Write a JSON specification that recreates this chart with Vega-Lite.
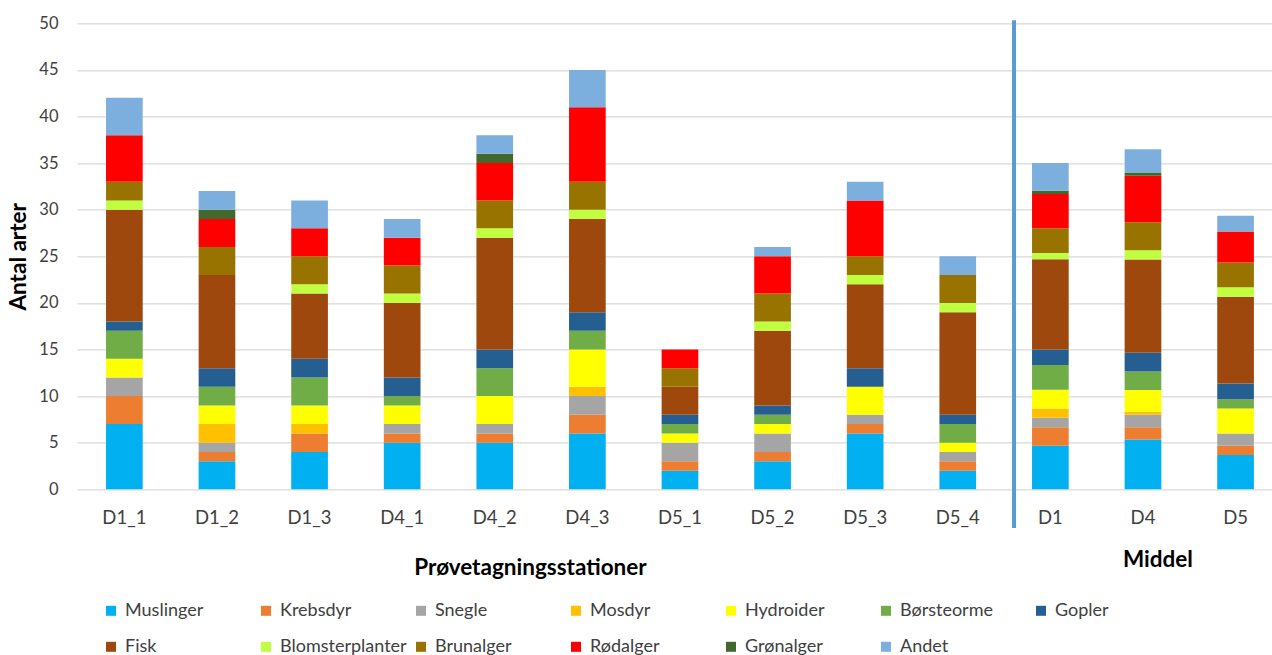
{
  "$schema": "https://vega.github.io/schema/vega-lite/v6.json",
  "width": 1195,
  "height": 466,
  "autosize": {"type": "none"},
  "padding": {"left": 77, "top": 23.3, "right": 0, "bottom": 165.7},
  "background": "white",
  "config": {
    "font": "Lato",
    "view": {"stroke": null},
    "axis": {
      "labelFont": "Lato",
      "labelColor": "#404040",
      "titleFont": "Lato",
      "titleFontSize": 22.5,
      "titleFontWeight": "bold",
      "titleColor": "#000000",
      "domain": false,
      "ticks": false
    },
    "legend": {
      "labelFont": "Lato",
      "labelFontSize": 18,
      "labelColor": "#404040"
    }
  },
  "datasets": {
    "arter": [
      {"station": "D1_1", "gruppe": "Muslinger", "antal": 7},
      {"station": "D1_1", "gruppe": "Krebsdyr", "antal": 3},
      {"station": "D1_1", "gruppe": "Snegle", "antal": 2},
      {"station": "D1_1", "gruppe": "Hydroider", "antal": 2},
      {"station": "D1_1", "gruppe": "Børsteorme", "antal": 3},
      {"station": "D1_1", "gruppe": "Gopler", "antal": 1},
      {"station": "D1_1", "gruppe": "Fisk", "antal": 12},
      {"station": "D1_1", "gruppe": "Blomsterplanter", "antal": 1},
      {"station": "D1_1", "gruppe": "Brunalger", "antal": 2},
      {"station": "D1_1", "gruppe": "Rødalger", "antal": 5},
      {"station": "D1_1", "gruppe": "Andet", "antal": 4},

      {"station": "D1_2", "gruppe": "Muslinger", "antal": 3},
      {"station": "D1_2", "gruppe": "Krebsdyr", "antal": 1},
      {"station": "D1_2", "gruppe": "Snegle", "antal": 1},
      {"station": "D1_2", "gruppe": "Mosdyr", "antal": 2},
      {"station": "D1_2", "gruppe": "Hydroider", "antal": 2},
      {"station": "D1_2", "gruppe": "Børsteorme", "antal": 2},
      {"station": "D1_2", "gruppe": "Gopler", "antal": 2},
      {"station": "D1_2", "gruppe": "Fisk", "antal": 10},
      {"station": "D1_2", "gruppe": "Brunalger", "antal": 3},
      {"station": "D1_2", "gruppe": "Rødalger", "antal": 3},
      {"station": "D1_2", "gruppe": "Grønalger", "antal": 1},
      {"station": "D1_2", "gruppe": "Andet", "antal": 2},

      {"station": "D1_3", "gruppe": "Muslinger", "antal": 4},
      {"station": "D1_3", "gruppe": "Krebsdyr", "antal": 2},
      {"station": "D1_3", "gruppe": "Mosdyr", "antal": 1},
      {"station": "D1_3", "gruppe": "Hydroider", "antal": 2},
      {"station": "D1_3", "gruppe": "Børsteorme", "antal": 3},
      {"station": "D1_3", "gruppe": "Gopler", "antal": 2},
      {"station": "D1_3", "gruppe": "Fisk", "antal": 7},
      {"station": "D1_3", "gruppe": "Blomsterplanter", "antal": 1},
      {"station": "D1_3", "gruppe": "Brunalger", "antal": 3},
      {"station": "D1_3", "gruppe": "Rødalger", "antal": 3},
      {"station": "D1_3", "gruppe": "Andet", "antal": 3},

      {"station": "D4_1", "gruppe": "Muslinger", "antal": 5},
      {"station": "D4_1", "gruppe": "Krebsdyr", "antal": 1},
      {"station": "D4_1", "gruppe": "Snegle", "antal": 1},
      {"station": "D4_1", "gruppe": "Hydroider", "antal": 2},
      {"station": "D4_1", "gruppe": "Børsteorme", "antal": 1},
      {"station": "D4_1", "gruppe": "Gopler", "antal": 2},
      {"station": "D4_1", "gruppe": "Fisk", "antal": 8},
      {"station": "D4_1", "gruppe": "Blomsterplanter", "antal": 1},
      {"station": "D4_1", "gruppe": "Brunalger", "antal": 3},
      {"station": "D4_1", "gruppe": "Rødalger", "antal": 3},
      {"station": "D4_1", "gruppe": "Andet", "antal": 2},

      {"station": "D4_2", "gruppe": "Muslinger", "antal": 5},
      {"station": "D4_2", "gruppe": "Krebsdyr", "antal": 1},
      {"station": "D4_2", "gruppe": "Snegle", "antal": 1},
      {"station": "D4_2", "gruppe": "Hydroider", "antal": 3},
      {"station": "D4_2", "gruppe": "Børsteorme", "antal": 3},
      {"station": "D4_2", "gruppe": "Gopler", "antal": 2},
      {"station": "D4_2", "gruppe": "Fisk", "antal": 12},
      {"station": "D4_2", "gruppe": "Blomsterplanter", "antal": 1},
      {"station": "D4_2", "gruppe": "Brunalger", "antal": 3},
      {"station": "D4_2", "gruppe": "Rødalger", "antal": 4},
      {"station": "D4_2", "gruppe": "Grønalger", "antal": 1},
      {"station": "D4_2", "gruppe": "Andet", "antal": 2},

      {"station": "D4_3", "gruppe": "Muslinger", "antal": 6},
      {"station": "D4_3", "gruppe": "Krebsdyr", "antal": 2},
      {"station": "D4_3", "gruppe": "Snegle", "antal": 2},
      {"station": "D4_3", "gruppe": "Mosdyr", "antal": 1},
      {"station": "D4_3", "gruppe": "Hydroider", "antal": 4},
      {"station": "D4_3", "gruppe": "Børsteorme", "antal": 2},
      {"station": "D4_3", "gruppe": "Gopler", "antal": 2},
      {"station": "D4_3", "gruppe": "Fisk", "antal": 10},
      {"station": "D4_3", "gruppe": "Blomsterplanter", "antal": 1},
      {"station": "D4_3", "gruppe": "Brunalger", "antal": 3},
      {"station": "D4_3", "gruppe": "Rødalger", "antal": 8},
      {"station": "D4_3", "gruppe": "Andet", "antal": 4},

      {"station": "D5_1", "gruppe": "Muslinger", "antal": 2},
      {"station": "D5_1", "gruppe": "Krebsdyr", "antal": 1},
      {"station": "D5_1", "gruppe": "Snegle", "antal": 2},
      {"station": "D5_1", "gruppe": "Hydroider", "antal": 1},
      {"station": "D5_1", "gruppe": "Børsteorme", "antal": 1},
      {"station": "D5_1", "gruppe": "Gopler", "antal": 1},
      {"station": "D5_1", "gruppe": "Fisk", "antal": 3},
      {"station": "D5_1", "gruppe": "Brunalger", "antal": 2},
      {"station": "D5_1", "gruppe": "Rødalger", "antal": 2},

      {"station": "D5_2", "gruppe": "Muslinger", "antal": 3},
      {"station": "D5_2", "gruppe": "Krebsdyr", "antal": 1},
      {"station": "D5_2", "gruppe": "Snegle", "antal": 2},
      {"station": "D5_2", "gruppe": "Hydroider", "antal": 1},
      {"station": "D5_2", "gruppe": "Børsteorme", "antal": 1},
      {"station": "D5_2", "gruppe": "Gopler", "antal": 1},
      {"station": "D5_2", "gruppe": "Fisk", "antal": 8},
      {"station": "D5_2", "gruppe": "Blomsterplanter", "antal": 1},
      {"station": "D5_2", "gruppe": "Brunalger", "antal": 3},
      {"station": "D5_2", "gruppe": "Rødalger", "antal": 4},
      {"station": "D5_2", "gruppe": "Andet", "antal": 1},

      {"station": "D5_3", "gruppe": "Muslinger", "antal": 6},
      {"station": "D5_3", "gruppe": "Krebsdyr", "antal": 1},
      {"station": "D5_3", "gruppe": "Snegle", "antal": 1},
      {"station": "D5_3", "gruppe": "Hydroider", "antal": 3},
      {"station": "D5_3", "gruppe": "Gopler", "antal": 2},
      {"station": "D5_3", "gruppe": "Fisk", "antal": 9},
      {"station": "D5_3", "gruppe": "Blomsterplanter", "antal": 1},
      {"station": "D5_3", "gruppe": "Brunalger", "antal": 2},
      {"station": "D5_3", "gruppe": "Rødalger", "antal": 6},
      {"station": "D5_3", "gruppe": "Andet", "antal": 2},

      {"station": "D5_4", "gruppe": "Muslinger", "antal": 2},
      {"station": "D5_4", "gruppe": "Krebsdyr", "antal": 1},
      {"station": "D5_4", "gruppe": "Snegle", "antal": 1},
      {"station": "D5_4", "gruppe": "Hydroider", "antal": 1},
      {"station": "D5_4", "gruppe": "Børsteorme", "antal": 2},
      {"station": "D5_4", "gruppe": "Gopler", "antal": 1},
      {"station": "D5_4", "gruppe": "Fisk", "antal": 11},
      {"station": "D5_4", "gruppe": "Blomsterplanter", "antal": 1},
      {"station": "D5_4", "gruppe": "Brunalger", "antal": 3},
      {"station": "D5_4", "gruppe": "Andet", "antal": 2},

      {"station": "D1", "gruppe": "Muslinger", "antal": 4.67},
      {"station": "D1", "gruppe": "Krebsdyr", "antal": 2},
      {"station": "D1", "gruppe": "Snegle", "antal": 1},
      {"station": "D1", "gruppe": "Mosdyr", "antal": 1},
      {"station": "D1", "gruppe": "Hydroider", "antal": 2},
      {"station": "D1", "gruppe": "Børsteorme", "antal": 2.67},
      {"station": "D1", "gruppe": "Gopler", "antal": 1.67},
      {"station": "D1", "gruppe": "Fisk", "antal": 9.67},
      {"station": "D1", "gruppe": "Blomsterplanter", "antal": 0.67},
      {"station": "D1", "gruppe": "Brunalger", "antal": 2.67},
      {"station": "D1", "gruppe": "Rødalger", "antal": 3.67},
      {"station": "D1", "gruppe": "Grønalger", "antal": 0.33},
      {"station": "D1", "gruppe": "Andet", "antal": 3},

      {"station": "D4", "gruppe": "Muslinger", "antal": 5.33},
      {"station": "D4", "gruppe": "Krebsdyr", "antal": 1.33},
      {"station": "D4", "gruppe": "Snegle", "antal": 1.33},
      {"station": "D4", "gruppe": "Mosdyr", "antal": 0.33},
      {"station": "D4", "gruppe": "Hydroider", "antal": 2.33},
      {"station": "D4", "gruppe": "Børsteorme", "antal": 2},
      {"station": "D4", "gruppe": "Gopler", "antal": 2},
      {"station": "D4", "gruppe": "Fisk", "antal": 10},
      {"station": "D4", "gruppe": "Blomsterplanter", "antal": 1},
      {"station": "D4", "gruppe": "Brunalger", "antal": 3},
      {"station": "D4", "gruppe": "Rødalger", "antal": 5},
      {"station": "D4", "gruppe": "Grønalger", "antal": 0.33},
      {"station": "D4", "gruppe": "Andet", "antal": 2.5},

      {"station": "D5", "gruppe": "Muslinger", "antal": 3.67},
      {"station": "D5", "gruppe": "Krebsdyr", "antal": 1},
      {"station": "D5", "gruppe": "Snegle", "antal": 1.33},
      {"station": "D5", "gruppe": "Hydroider", "antal": 2.67},
      {"station": "D5", "gruppe": "Børsteorme", "antal": 1},
      {"station": "D5", "gruppe": "Gopler", "antal": 1.67},
      {"station": "D5", "gruppe": "Fisk", "antal": 9.33},
      {"station": "D5", "gruppe": "Blomsterplanter", "antal": 1},
      {"station": "D5", "gruppe": "Brunalger", "antal": 2.67},
      {"station": "D5", "gruppe": "Rødalger", "antal": 3.33},
      {"station": "D5", "gruppe": "Andet", "antal": 1.67}
    ]
  },
  "layer": [
    {
      "data": {"name": "arter"},
      "transform": [
        {"calculate": "indexof(['Muslinger', 'Krebsdyr', 'Snegle', 'Mosdyr', 'Hydroider', 'Børsteorme', 'Gopler', 'Fisk', 'Blomsterplanter', 'Brunalger', 'Rødalger', 'Grønalger', 'Andet'], datum.gruppe)", "as": "lag"}
      ],
      "mark": {"type": "bar"},
      "encoding": {
        "x": {
          "field": "station",
          "type": "nominal",
          "sort": ["D1_1", "D1_2", "D1_3", "D4_1", "D4_2", "D4_3", "D5_1", "D5_2", "D5_3", "D5_4", "D1", "D4", "D5"],
          "scale": {"paddingInner": 0.604, "paddingOuter": 0.2545, "align": 0.616},
          "axis": {
            "title": "Prøvetagningsstationer",
            "labelAngle": 0,
            "labelFontSize": 18.5,
            "labelPadding": 28,
            "labelBaseline": "middle",
            "titleX": 453,
            "titleY": 78,
            "titleBaseline": "middle",
            "grid": false
          }
        },
        "y": {
          "field": "antal",
          "type": "quantitative",
          "aggregate": "sum",
          "stack": "zero",
          "scale": {"domain": [0, 50], "nice": false, "zero": true},
          "axis": {
            "title": "Antal arter",
            "values": [0, 5, 10, 15, 20, 25, 30, 35, 40, 45, 50],
            "labelFontSize": 16.5,
            "grid": true,
            "gridColor": "#d9d9d9",
            "gridWidth": 1.3,
            "labelPadding": 19,
            "titleX": -59,
            "titleY": 233,
            "titleBaseline": "middle",
            "titleAlign": "center"
          }
        },
        "color": {
          "field": "gruppe",
          "type": "nominal",
          "scale": {
            "domain": ["Muslinger", "Krebsdyr", "Snegle", "Mosdyr", "Hydroider", "Børsteorme", "Gopler", "Fisk", "Blomsterplanter", "Brunalger", "Rødalger", "Grønalger", "Andet"],
            "range": ["#00b0f0", "#ed7d31", "#a5a5a5", "#ffc000", "#ffff00", "#70ad47", "#255e91", "#9e480e", "#bfff3f", "#997300", "#ff0000", "#43682b", "#7cafdd"]
          },
          "legend": {
            "title": null,
            "orient": "none",
            "legendX": 25,
            "legendY": 578.5,
            "direction": "horizontal",
            "columns": 7,
            "gridAlign": "all",
            "columnPadding": 5,
            "rowPadding": 18,
            "symbolType": "square",
            "symbolSize": 100,
            "symbolStrokeWidth": 0,
            "labelOffset": 5,
            "labelLimit": 300
          }
        },
        "order": {"field": "lag", "type": "quantitative", "sort": "ascending"}
      }
    },
    {
      "data": {"values": [{"skille": "D1"}]},
      "mark": {"type": "rule", "color": "#5b9bd5", "strokeWidth": 4, "xOffset": -18},
      "encoding": {
        "x": {"datum": "D1", "bandPosition": 0},
        "y": {"datum": 50.32},
        "y2": {"datum": -4.15}
      }
    },
    {
      "data": {"values": [{"tekst": "Middel"}]},
      "mark": {"type": "text", "fontSize": 22.5, "fontWeight": "bold", "font": "Lato", "color": "#000000", "dx": 15, "baseline": "middle"},
      "encoding": {
        "x": {"datum": "D4"},
        "y": {"datum": -7.6},
        "text": {"field": "tekst"}
      }
    }
  ]
}
